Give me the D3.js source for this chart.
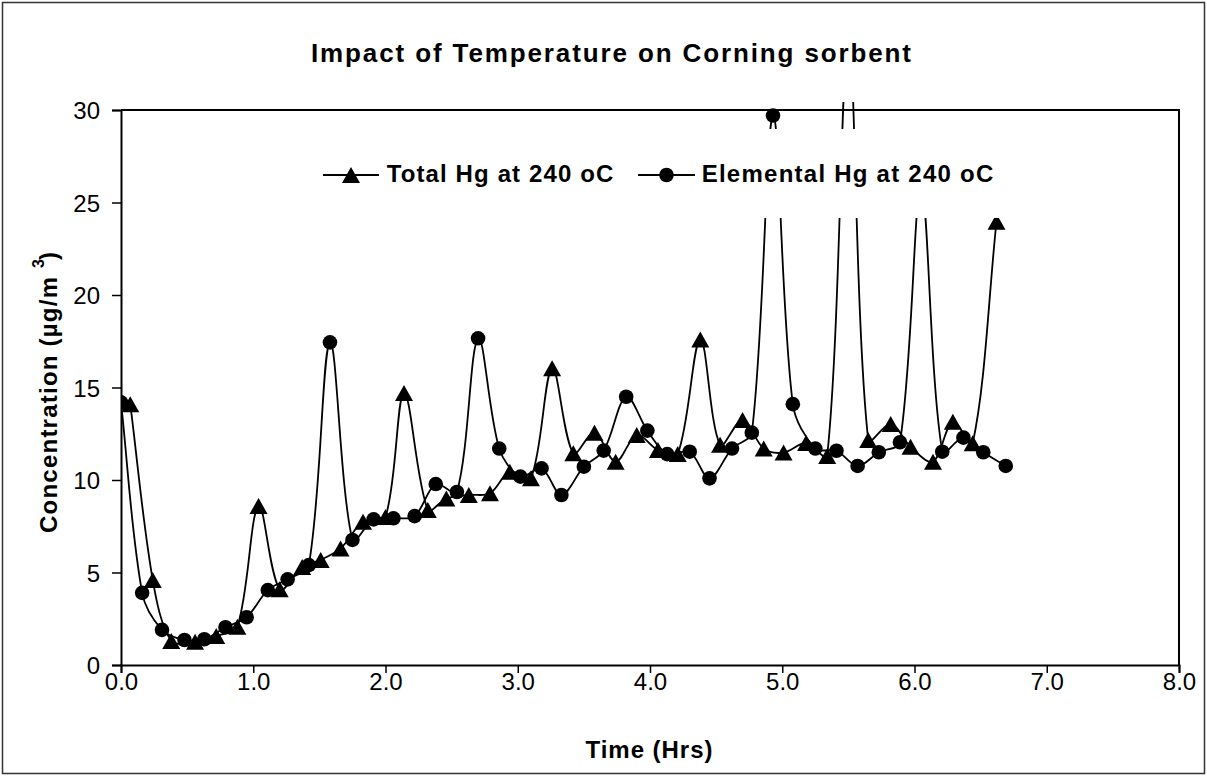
<!DOCTYPE html>
<html>
<head>
<meta charset="utf-8">
<script src="https://cdn.jsdelivr.net/npm/d3@7"></script>
<style>
  html, body { margin: 0; padding: 0; background: #fff; }
  svg { display: block; }
  text { font-family: "Liberation Sans", Arial, sans-serif; fill: #000; }
</style>
</head>
<body>
<svg id="chart" width="1207" height="776"></svg>
<script>
// ---------------- DATA ----------------
const chartTitle = "Impact of Temperature on Corning sorbent";
const xAxisTitle = "Time (Hrs)";
const yAxisTitleMain = "Concentration (µg/m";
const yAxisTitleSup = "3";
const yAxisTitleEnd = ")";
const seriesNames = ["Total Hg at 240 oC", "Elemental Hg at 240 oC"];

// Total Hg (triangles)
const totalTime = [0.07, 0.24, 0.38, 0.56, 0.72, 0.88, 1.04, 1.20, 1.37, 1.51, 1.66, 1.83, 2.00, 2.14,
  2.32, 2.46, 2.63, 2.79, 2.94, 3.10, 3.26, 3.42, 3.58, 3.74, 3.90, 4.06, 4.21, 4.38, 4.53, 4.70,
  4.86, 5.01, 5.18, 5.34, 5.50, 5.65, 5.82, 5.97, 6.14, 6.29, 6.44, 6.62];
const totalHg = [14.1, 4.6, 1.3, 1.26, 1.57, 2.07, 8.6, 4.09, 5.3, 5.68, 6.3, 7.75, 8.0, 14.7,
  8.38, 9.0, 9.19, 9.28, 10.45, 10.09, 16.04, 11.44, 12.56, 10.99, 12.43, 11.62, 11.4, 17.6, 11.9, 13.24,
  11.7, 11.48, 12.0, 11.3, 34.0, 12.16, 13.03, 11.8, 10.99, 13.15, 11.98, 23.96];

// Elemental Hg (circles)
const elemTime = [0.00, 0.16, 0.31, 0.48, 0.63, 0.79, 0.95, 1.11, 1.26, 1.42, 1.58, 1.75, 1.91, 2.06,
  2.22, 2.38, 2.54, 2.70, 2.86, 3.02, 3.18, 3.33, 3.50, 3.65, 3.82, 3.98, 4.13, 4.30, 4.45, 4.62,
  4.77, 4.93, 5.08, 5.25, 5.41, 5.57, 5.73, 5.89, 6.05, 6.21, 6.37, 6.52, 6.69];
const elementalHg = [14.2, 3.9, 1.9, 1.35, 1.39, 2.04, 2.58, 4.05, 4.63, 5.4, 17.44, 6.76, 7.87, 7.93,
  8.05, 9.78, 9.35, 17.66, 11.7, 10.18, 10.63, 9.19, 10.72, 11.59, 14.5, 12.67, 11.4, 11.53, 10.09, 11.7,
  12.56, 29.7, 14.1, 11.7, 11.58, 10.76, 11.5, 12.04, 25.8, 11.53, 12.29, 11.5, 10.76];

const xTicks = [0, 1, 2, 3, 4, 5, 6, 7, 8];
const xTickLabels = ["0.0", "1.0", "2.0", "3.0", "4.0", "5.0", "6.0", "7.0", "8.0"];
const yTicks = [0, 5, 10, 15, 20, 25, 30];
const yTickLabels = ["0", "5", "10", "15", "20", "25", "30"];

// ---------------- LAYOUT ----------------
const W = 1207, H = 776;
const plot = { left: 121, right: 1179, top: 110, bottom: 665 };
const FONT = 24;

const svg = d3.select("#chart");

const x = d3.scaleLinear().domain([0, 8]).range([plot.left, plot.right]);
const y = d3.scaleLinear().domain([0, 30]).range([plot.bottom, plot.top]);

// Excel-like smoothed line: Bezier with tangents parallel to neighbour chords,
// control distances scaled by adjacent segment lengths (in pixel space).
function smoothPath(pts) {
  const p = d3.path();
  const n = pts.length;
  const dist = (a, b) => Math.hypot(b[0] - a[0], b[1] - a[1]);
  p.moveTo(pts[0][0], pts[0][1]);
  for (let i = 0; i < n - 1; i++) {
    const P0 = pts[Math.max(0, i - 1)], P1 = pts[i], P2 = pts[i + 1], P3 = pts[Math.min(n - 1, i + 2)];
    const d01 = dist(P0, P1), d12 = dist(P1, P2), d23 = dist(P2, P3);
    const f1 = d12 / (3 * (d01 + d12) || 1);
    const f2 = d12 / (3 * (d12 + d23) || 1);
    const c1 = [P1[0] + (P2[0] - P0[0]) * f1, P1[1] + (P2[1] - P0[1]) * f1];
    const c2 = [P2[0] - (P3[0] - P1[0]) * f2, P2[1] - (P3[1] - P1[1]) * f2];
    p.bezierCurveTo(c1[0], c1[1], c2[0], c2[1], P2[0], P2[1]);
  }
  return p.toString();
}

// outer frame
svg.append("rect")
  .attr("x", 2.5).attr("y", 2.5).attr("width", W - 5).attr("height", H - 5)
  .attr("fill", "#fff").attr("stroke", "#333").attr("stroke-width", 1.5);

// title
svg.append("text")
  .attr("x", 611).attr("y", 62)
  .attr("text-anchor", "middle")
  .style("font-size", "26px").style("font-weight", "bold")
  .attr("textLength", 600).attr("lengthAdjust", "spacing")
  .text(chartTitle);

// plot area background
svg.append("rect")
  .attr("x", plot.left).attr("y", plot.top)
  .attr("width", plot.right - plot.left).attr("height", plot.bottom - plot.top)
  .attr("fill", "#fff");

// clip (Excel lets lines run a few px above the plot frame)
const defs = svg.append("defs");
defs.append("clipPath").attr("id", "clip")
  .append("rect")
  .attr("x", plot.left).attr("y", plot.top - 8)
  .attr("width", plot.right - plot.left).attr("height", plot.bottom - plot.top + 8);

const series = [
  { name: seriesNames[0], t: totalTime, v: totalHg, marker: "triangle" },
  { name: seriesNames[1], t: elemTime, v: elementalHg, marker: "circle" }
];

const triPath = "M0,-8 L9,8 L-9,8 Z";

const gData = svg.append("g").attr("clip-path", "url(#clip)");
series.forEach(s => {
  const pts = s.t.map((t, i) => [x(t), y(s.v[i])]);
  gData.append("path")
    .attr("d", smoothPath(pts))
    .attr("fill", "none").attr("stroke", "#000").attr("stroke-width", 1.8);
  const g = gData.append("g");
  if (s.marker === "triangle") {
    g.selectAll("path").data(pts).join("path")
      .attr("d", triPath)
      .attr("transform", d => `translate(${d[0]},${d[1]})`)
      .attr("fill", "#000");
  } else {
    g.selectAll("circle").data(pts).join("circle")
      .attr("cx", d => d[0]).attr("cy", d => d[1]).attr("r", 7.3)
      .attr("fill", "#000");
  }
});

// plot border (top & right)
svg.append("path")
  .attr("d", `M${plot.left},${plot.top}H${plot.right}V${plot.bottom}`)
  .attr("fill", "none").attr("stroke", "#000").attr("stroke-width", 2);

// axes
const yAxis = d3.axisLeft(y).tickValues(yTicks).tickSize(9).tickPadding(12)
  .tickFormat((d, i) => yTickLabels[i]);
const gy = svg.append("g").attr("transform", `translate(${plot.left},0)`).call(yAxis);
gy.select(".domain").attr("stroke", "#000").attr("stroke-width", 2);
gy.selectAll(".tick line").attr("stroke", "#000").attr("stroke-width", 1.5);
gy.selectAll(".tick text").attr("dy", "0.36em")
  .style("font-size", FONT + "px").style("font-family", "'Liberation Sans', Arial, sans-serif").attr("fill", "#000");

const xAxis = d3.axisBottom(x).tickValues(xTicks).tickSize(8).tickPadding(0)
  .tickFormat((d, i) => xTickLabels[i]);
const gx = svg.append("g").attr("transform", `translate(0,${plot.bottom})`).call(xAxis);
gx.select(".domain").attr("stroke", "#000").attr("stroke-width", 2);
gx.selectAll(".tick line").attr("stroke", "#000").attr("stroke-width", 1.5);
gx.selectAll(".tick text")
  .style("font-size", FONT + "px").style("font-family", "'Liberation Sans', Arial, sans-serif").attr("fill", "#000");

// x axis title
svg.append("text")
  .attr("x", 649).attr("y", 758)
  .attr("text-anchor", "middle")
  .style("font-size", FONT + "px").style("font-weight", "bold")
  .attr("textLength", 127).attr("lengthAdjust", "spacing")
  .text(xAxisTitle);

// y axis title (rotated), with Excel-style detached superscript
svg.append("text")
  .attr("transform", "translate(57,533) rotate(-90)")
  .style("font-size", FONT + "px").style("font-weight", "bold")
  .attr("textLength", 256).attr("lengthAdjust", "spacing")
  .text(yAxisTitleMain);
svg.append("text")
  .attr("transform", "translate(44,268) rotate(-90)")
  .style("font-size", "16px").style("font-weight", "bold")
  .text(yAxisTitleSup);
svg.append("text")
  .attr("transform", "translate(57,260) rotate(-90)")
  .style("font-size", FONT + "px").style("font-weight", "bold")
  .text(yAxisTitleEnd);

// legend
const lg = svg.append("g");
lg.append("rect").attr("x", 305).attr("y", 129).attr("width", 705).attr("height", 89).attr("fill", "#fff");
const legendItems = [
  { name: seriesNames[0], marker: "triangle", x1: 323, x2: 379, tx: 386.7, tw: 226.6 },
  { name: seriesNames[1], marker: "circle", x1: 638, x2: 695, tx: 701.7, tw: 291.6 }
];
legendItems.forEach(it => {
  const cy = 175, cx = (it.x1 + it.x2) / 2;
  lg.append("line").attr("x1", it.x1).attr("x2", it.x2).attr("y1", cy).attr("y2", cy)
    .attr("stroke", "#000").attr("stroke-width", 1.8);
  if (it.marker === "triangle") {
    lg.append("path").attr("d", triPath).attr("transform", `translate(${cx},${cy})`).attr("fill", "#000");
  } else {
    lg.append("circle").attr("cx", cx).attr("cy", cy).attr("r", 7.3).attr("fill", "#000");
  }
  lg.append("text").attr("x", it.tx).attr("y", 181.7)
    .style("font-size", FONT + "px").style("font-weight", "bold")
    .attr("textLength", it.tw).attr("lengthAdjust", "spacing")
    .text(it.name);
});
</script>
</body>
</html>
